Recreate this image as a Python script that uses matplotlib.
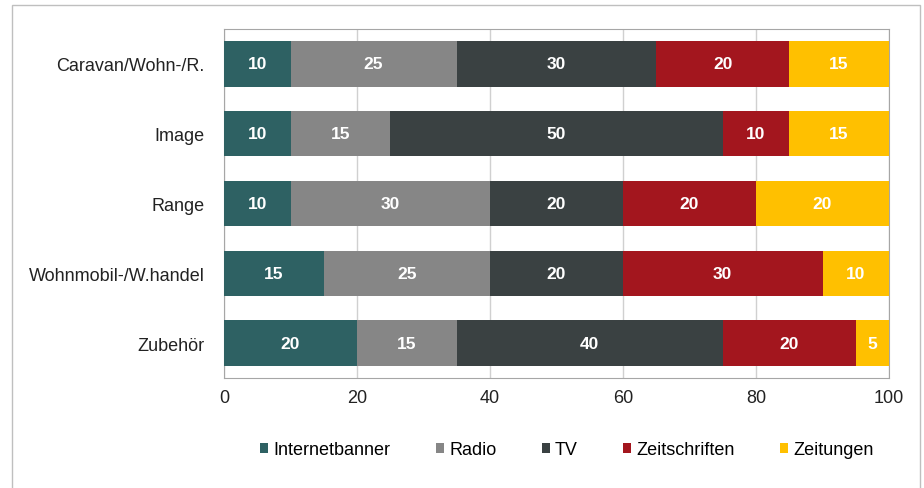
import matplotlib.pyplot as plt
import numpy as np

plt.rcParams['font.family'] = ['Liberation Sans', 'DejaVu Sans']

# Kategorien (von oben nach unten) und Werte pro Medium
kategorien = ['Caravan/Wohn-/R.', 'Image', 'Range', 'Wohnmobil-/W.handel', 'Zubehör']
internetbanner = [10, 10, 10, 15, 20]
radio = [25, 15, 30, 25, 15]
tv = [30, 50, 20, 20, 40]
zeitschriften = [20, 10, 20, 30, 20]
zeitungen = [15, 15, 20, 10, 5]

serien = ['Internetbanner', 'Radio', 'TV', 'Zeitschriften', 'Zeitungen']
werte = [internetbanner, radio, tv, zeitschriften, zeitungen]
farben = ['#2E6163', '#868686', '#3A4142', '#A3161E', '#FFC000']

fig = plt.figure(figsize=(9.24, 4.89), dpi=100)
ax = fig.add_axes([224 / 924, 1 - 379 / 489, (889 - 224) / 924, (379 - 30) / 489])

y = np.arange(len(kategorien))
links = np.zeros(len(kategorien))
for name, w, f in zip(serien, werte, farben):
    bars = ax.barh(y, w, left=links, height=0.65, color=f, label=name, zorder=3)
    for b, v in zip(bars, w):
        ax.text(b.get_x() + b.get_width() / 2, b.get_y() + b.get_height() / 2, str(v),
                ha='center', va='center', color='white', fontsize=12.5, fontweight='bold', zorder=4)
    links += np.array(w)

ax.set_xlim(0, 100)
ax.set_ylim(len(kategorien) - 0.5, -0.5)
ax.set_yticks(y)
ax.set_yticklabels(kategorien, fontsize=13, color='#222222')
ax.set_xticks([0, 20, 40, 60, 80, 100])
ax.tick_params(axis='x', labelsize=13, colors='#222222', length=0, pad=8)
ax.tick_params(axis='y', length=0, pad=14)
ax.xaxis.grid(True, color='#D0D0D0', linewidth=1, zorder=0)
for s in ['top', 'right', 'left', 'bottom']:
    ax.spines[s].set_color('#A6A6A6')

fig.legend(loc='center', bbox_to_anchor=(567 / 924, 1 - 451 / 489), ncol=5, frameon=False,
           fontsize=13, handlelength=0.45, handleheight=0.45, handletextpad=0.3, columnspacing=2.5)

# Rahmen um die ganze Grafik
fig.patches.append(plt.Rectangle((12 / 924, -0.02), 908 / 924, 1 - 6 / 489 + 0.02, transform=fig.transFigure,
                                 fill=False, edgecolor='#BFBFBF', linewidth=1))

fig.savefig('out.png', dpi=100)
